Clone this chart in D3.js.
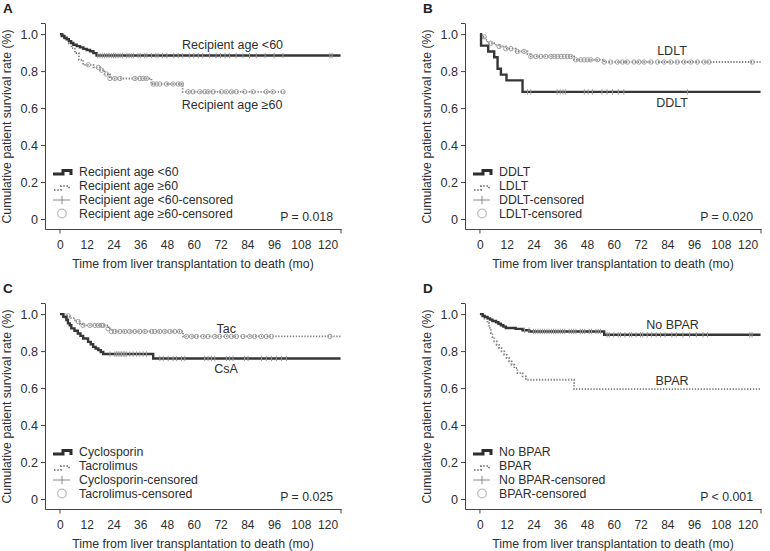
<!DOCTYPE html>
<html>
<head>
<meta charset="utf-8">
<script src="https://cdn.jsdelivr.net/npm/d3@7"></script>
<style>
  body { margin: 0; background: #fff; }
  svg { font-family: "Liberation Sans", Arial, sans-serif; }
</style>
</head>
<body>
<svg id="chart" width="770" height="551"></svg>
<script>
// ---- data: [month, survival] at each event ----
var ageLt60Steps = [[0,1],[0.8,0.99],[2,0.98],[3,0.972],[4,0.962],[5,0.952],[6,0.942],[7.5,0.935],[9,0.928],[10.5,0.92],[12,0.914],[13.5,0.907],[15,0.897],[16.4,0.884]]
var ageLt60Cens = [17,18,19,20,21,22,23,24,25,26,27,28,30,31,32,33,35,36,38,39,41,43,44,46,48,51,53,55,58,60,62,64,67,70,72,74,76,79,82,85,88,92,96,100,121,122]
var ageGe60Steps = [[0,1],[2,0.975],[4,0.95],[5.2,0.924],[6.7,0.897],[8.5,0.861],[10.4,0.834],[15,0.82],[18,0.805],[20,0.784],[22.4,0.76],[41,0.73],[55,0.688]]
var ageGe60Cens = [12.7,17.2,18.7,20.9,22.4,24.6,26.9,33.6,35.8,37.3,38.8,41.8,43.3,44.8,47.8,50.7,53,54.5,57.5,59.7,62.7,65,66.4,68.7,72.4,74.6,76.9,79.1,82.8,86.6,92.5,95.5,100]

var ddltSteps = [[0,1],[0.5,0.9375],[3.7,0.906],[6.4,0.875],[7.9,0.8125],[9.4,0.781],[11.9,0.75],[19.1,0.6875]]
var ddltCens = [21.3,22.8,34.6,36,37.2,38.3,46.8,48.5,50.4,54.7,57,59.4,62,64.5,93]
var ldltSteps = [[0,1],[1,0.985],[2.4,0.969],[3.4,0.951],[6.4,0.942],[8.6,0.933],[11.6,0.921],[16.1,0.906],[21.3,0.892],[22.8,0.879],[42.2,0.861],[55.7,0.849]]
var ldltCens = [1.9,4.9,8.6,11.6,13.9,16.8,19.8,22.8,25.1,27.3,29.5,31.8,33.3,34.8,36.3,37.8,39.3,40.7,43,45.2,46.7,48.2,49.7,52.7,55.7,58.6,61.6,63.9,66.1,69.1,71.3,73.6,76.6,79.6,82.6,85.6,88.5,91.5,94.5,97.5,100.5,102.7,122.1]

var csaSteps = [[0,1],[1.5,0.985],[2.9,0.968],[3.6,0.95],[4.4,0.94],[5.1,0.923],[6.5,0.91],[8,0.895],[9.2,0.882],[10.4,0.868],[12.6,0.85],[13.8,0.837],[14.9,0.823],[16,0.814],[17.2,0.805],[18.3,0.795],[19.4,0.784],[41.8,0.76]]
var csaCens = [22.4,24.6,25.4,26.1,26.9,27.6,28.4,29.1,29.9,31.3,32.8,34.3,35.8,37.3,38.8,44.8,46.3,48.5,50.7,52.2,54.5,56,64.9,66.4,67.9,69.4,74.6,76.1,77.6,82.8,84.3,90.3,92.5,94.8,97,99.3,101.5]
var tacSteps = [[0,1],[2,0.99],[4.5,0.978],[6.7,0.96],[9,0.946],[10.4,0.939],[21.6,0.921],[23.1,0.906],[55.2,0.879]]
var tacCens = [2.2,3.7,8.2,10.4,13.4,15.7,17.2,18.7,19.4,21.6,23.1,24.6,26.9,29.1,31.3,33.6,35.8,38.1,41.1,42.5,44.8,47,49.3,51.5,53.7,56.7,59,61.2,64.2,66.4,69.4,71.6,74.6,76.9,79.1,82.1,85.1,87.3,90.3,92.5,94.8,121]

var noBparSteps = [[0,1],[1.2,0.99],[2.2,0.985],[3.4,0.977],[4.5,0.97],[5.6,0.963],[7.2,0.956],[8.3,0.948],[9.4,0.94],[10.5,0.932],[11.6,0.925],[16,0.92],[19.1,0.913],[22.1,0.906],[55.7,0.888]]
var noBparCens = [20,22,24,25,26,27,28,29,30,31,32,33,34,35,36,37,38,40,41,42,43,45,46,47,49,50,52,53,54,57,58,60,62,63,65,67,68,70,72,73,75,77,79,81,83,86,88,91,94,97,100,102,121,122]
var bparSteps = [[0,1],[2,0.975],[3.4,0.951],[4.1,0.925],[4.9,0.897],[5.6,0.875],[6.4,0.852],[7.5,0.834],[8.6,0.816],[9.7,0.798],[10.9,0.78],[12,0.762],[13.1,0.744],[14.2,0.726],[15.4,0.708],[16.8,0.681],[19.1,0.663],[20.6,0.645],[42.2,0.594]]
var bparCens = []

var xTicks = [0,12,24,36,48,60,72,84,96,108,120]
var yTicks = [0,0.2,0.4,0.6,0.8,1.0]

var panels = [
    { letter: "A", ox: 0, oy: 0, p: "P = 0.018", names: ["Recipient age <60", "Recipient age \u226560"],
      dark: { steps: ageLt60Steps, cens: ageLt60Cens, end: 125.8 },
      grey: { steps: ageGe60Steps, cens: ageGe60Cens, end: 100.7 },
      labels: [{ t: "Recipient age <60", x: 232.5, y: 48.5 }, { t: "Recipient age \u226560", x: 232, y: 108.5 }] },
    { letter: "B", ox: 420, oy: 0, p: "P = 0.020", names: ["DDLT", "LDLT"],
      dark: { steps: ddltSteps, cens: ddltCens, end: 125.8 },
      grey: { steps: ldltSteps, cens: ldltCens, end: 125.8 },
      labels: [{ t: "LDLT", x: 252, y: 55 }, { t: "DDLT", x: 252, y: 107.3 }] },
    { letter: "C", ox: 0, oy: 280, p: "P = 0.025", names: ["Cyclosporin", "Tacrolimus"],
      dark: { steps: csaSteps, cens: csaCens, end: 125.8 },
      grey: { steps: tacSteps, cens: tacCens, end: 125.8 },
      labels: [{ t: "Tac", x: 226.3, y: 52.7 }, { t: "CsA", x: 226, y: 92.7 }] },
    { letter: "D", ox: 420, oy: 280, p: "P < 0.001", names: ["No BPAR", "BPAR"],
      dark: { steps: noBparSteps, cens: noBparCens, end: 125.8 },
      grey: { steps: bparSteps, cens: bparCens, end: 125.8 },
      labels: [{ t: "No BPAR", x: 252.5, y: 49.3 }, { t: "BPAR", x: 252, y: 105 }] }
]

var textCol = "#2e2e2e"
var axisCol = "#444"
var fs = "12.3px"

// same scales for every panel, panels are just translated
var x = d3.scaleLinear().domain([-6.7, 126]).range([45, 341])
var y = d3.scaleLinear().domain([-0.054, 1.06]).range([229, 23])

var line = d3.line()
    .x(function (d) { return x(d[0]) })
    .y(function (d) { return y(d[1]) })
    .curve(d3.curveStepAfter)

function survAt(steps, t) {
    var v = 1
    steps.forEach(function (s) { if (s[0] <= t) v = s[1] })
    return v
}

function withEnd(steps, end) {
    var pts = steps.slice()
    pts.push([end, steps[steps.length - 1][1]])
    return pts
}

var svg = d3.select("#chart")

panels.forEach(function (p) {
    var g = svg.append("g").attr("transform", "translate(" + p.ox + "," + p.oy + ")")

    // panel letter
    g.append("text").attr("x", 3).attr("y", 12.5)
        .style("font-size", "13.5px").style("font-weight", "bold").attr("fill", "#222")
        .text(p.letter)

    // axes
    var yAxis = g.append("g").attr("transform", "translate(45,0)")
        .call(d3.axisLeft(y).tickValues(yTicks).tickSize(4).tickSizeOuter(0)
            .tickFormat(function (d) { return d == 0 ? "0" : d3.format(".1f")(d) }))
    var xAxis = g.append("g").attr("transform", "translate(0,229)")
        .call(d3.axisBottom(x).tickValues(xTicks).tickSize(0).tickSizeOuter(0).tickPadding(11))
    ;[yAxis, xAxis].forEach(function (a) {
        a.select(".domain").attr("stroke", axisCol)
        a.selectAll(".tick line").attr("stroke", axisCol)
        a.selectAll("text").attr("fill", textCol)
            .style("font-family", "'Liberation Sans', Arial, sans-serif")
    })
    yAxis.selectAll("text").style("font-size", "12.6px")
    xAxis.selectAll("text").style("font-size", "12px")
    // end ticks
    g.append("line").attr("x1", 41).attr("x2", 45).attr("y1", y(1.06) + 0.5).attr("y2", y(1.06) + 0.5).attr("stroke", axisCol)
    ;[x(0), x(126)].forEach(function (xx) {
        g.append("line").attr("x1", xx).attr("x2", xx).attr("y1", 229).attr("y2", 233.5).attr("stroke", axisCol)
    })

    // axis titles
    g.append("text").attr("x", 193).attr("y", 267.5).attr("text-anchor", "middle")
        .style("font-size", fs).attr("fill", textCol)
        .text("Time from liver transplantation to death (mo)")
    g.append("text").attr("transform", "translate(10.5,126.5) rotate(-90)").attr("text-anchor", "middle")
        .style("font-size", fs).attr("fill", textCol)
        .text("Cumulative patient survival rate (%)")

    // grey dotted curve + circle censors
    g.append("path").datum(withEnd(p.grey.steps, p.grey.end))
        .attr("d", line).attr("fill", "none")
        .attr("stroke", "#808080").attr("stroke-width", 1.8).attr("stroke-dasharray", "1.3,1.6")
    g.selectAll(".gc").data(p.grey.cens).enter().append("circle")
        .attr("class", "gc")
        .attr("cx", function (d) { return x(d) })
        .attr("cy", function (d) { return y(survAt(p.grey.steps, d)) })
        .attr("r", 2.2).attr("fill", "none").attr("stroke", "#a0a0a0").attr("stroke-width", 1)

    // dark solid curve + tick censors
    g.append("path").datum(withEnd(p.dark.steps, p.dark.end))
        .attr("d", line).attr("fill", "none")
        .attr("stroke", "#363636").attr("stroke-width", 2.4)
    g.selectAll(".dc").data(p.dark.cens).enter().append("line")
        .attr("class", "dc")
        .attr("x1", function (d) { return x(d) }).attr("x2", function (d) { return x(d) })
        .attr("y1", function (d) { return y(survAt(p.dark.steps, d)) - 2.7 })
        .attr("y2", function (d) { return y(survAt(p.dark.steps, d)) + 2.7 })
        .attr("stroke", "#9a9a9a").attr("stroke-width", 1)

    // curve labels
    p.labels.forEach(function (l) {
        g.append("text").attr("x", l.x).attr("y", l.y).attr("text-anchor", "middle")
            .style("font-size", "12.5px").attr("fill", textCol).text(l.t)
    })

    // legend
    g.append("path").attr("d", "M53,174H63V170.5H71V175").attr("fill", "none")
        .attr("stroke", "#2e2e2e").attr("stroke-width", 3)
    g.append("path").attr("d", "M54,190H61V186H69V190").attr("fill", "none")
        .attr("stroke", "#8a8a8a").attr("stroke-width", 2).attr("stroke-dasharray", "1.5,1.8")
    g.append("path").attr("d", "M53,200H70M62,196V204").attr("fill", "none")
        .attr("stroke", "#888").attr("stroke-width", 1)
    g.append("circle").attr("cx", 62).attr("cy", 213.5).attr("r", 4.3)
        .attr("fill", "none").attr("stroke", "#bbb").attr("stroke-width", 1.2)
    var legText = [p.names[0], p.names[1], p.names[0] + "-censored", p.names[1] + "-censored"]
    var legY = [176, 190, 204, 217.5]
    legText.forEach(function (t, i) {
        g.append("text").attr("x", 79).attr("y", legY[i])
            .style("font-size", fs).attr("fill", textCol).text(t)
    })

    // p value
    g.append("text").attr("x", 333).attr("y", 221).attr("text-anchor", "end")
        .style("font-size", fs).attr("fill", textCol).text(p.p)
})
</script>
</body>
</html>
